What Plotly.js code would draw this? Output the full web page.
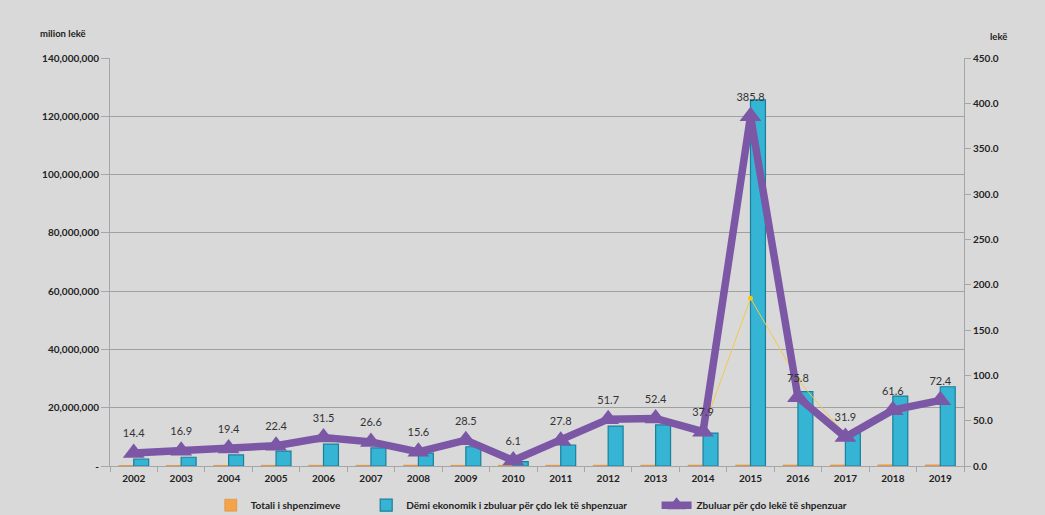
<!DOCTYPE html>
<html>
<head>
<meta charset="utf-8">
<script src="https://cdn.plot.ly/plotly-3.0.1.min.js"></script>
<style>
  html, body { margin: 0; padding: 0; background: #d9d9d9; }
  #chart { width: 1045px; height: 515px; }
</style>
</head>
<body>
<div id="chart"></div>
<script>
// Categories
var years = ['2002','2003','2004','2005','2006','2007','2008','2009','2010','2011','2012','2013','2014','2015','2016','2017','2018','2019'];

// Totali i shpenzimeve (left axis, lekë) - tiny, barely visible
var totaliShpenzimeve = [170000, 180000, 200000, 230000, 240000, 235000, 280000, 230000, 250000, 260000, 265000, 270000, 300000, 325000, 330000, 350000, 390000, 375000];

// Dëmi ekonomik i zbuluar (left axis)
var demiEkonomik = [2400000, 3000000, 3800000, 5100000, 7500000, 6200000, 4400000, 6600000, 1500000, 7200000, 13700000, 14100000, 11300000, 125600000, 25500000, 11300000, 24000000, 27200000];

// Zbuluar për çdo lekë të shpenzuar (right axis)
var zbuluarPerLek = [14.4, 16.9, 19.4, 22.4, 31.5, 26.6, 15.6, 28.5, 6.1, 27.8, 51.7, 52.4, 37.9, 385.8, 75.8, 31.9, 61.6, 72.4];

// Faint yellow helper line visible between 2014 and 2017 (right axis)
var yellowLine = [null, null, null, null, null, null, null, null, null, null, null, null, 40, 185, 95, 34, null, null];

// Tick labels
var leftTickVals = [0, 20000000, 40000000, 60000000, 80000000, 100000000, 120000000, 140000000];
var leftTickText = ['-', '20,000,000', '40,000,000', '60,000,000', '80,000,000', '100,000,000', '120,000,000', '140,000,000'];
var rightTickVals = [0, 50, 100, 150, 200, 250, 300, 350, 400, 450];
var rightTickText = ['0.0', '50.0', '100.0', '150.0', '200.0', '250.0', '300.0', '350.0', '400.0', '450.0'];

var FONT = 'Lato, "Open Sans", sans-serif';
var legFont = { family: FONT, size: 10, color: '#222222', weight: 'bold' };

var traces = [
  {
    type: 'bar', name: 'Totali i shpenzimeve', legend: 'legend',
    x: years, y: totaliShpenzimeve,
    marker: { color: '#f5a34a', line: { color: '#d9822b', width: 0.5 } },
    yaxis: 'y'
  },
  {
    type: 'bar', name: 'Dëmi ekonomik i zbuluar për çdo lek të shpenzuar', legend: 'legend2',
    x: years, y: demiEkonomik,
    marker: { color: '#36b4d4', line: { color: '#1b7f9c', width: 1.2 } },
    yaxis: 'y'
  },
  {
    type: 'scatter', mode: 'lines+markers', name: 'yellow',
    x: years, y: yellowLine, yaxis: 'y2', showlegend: false,
    line: { color: '#f2c94c', width: 1 },
    marker: { color: '#f5c518', size: 5 },
    connectgaps: false
  },
  {
    type: 'scatter', mode: 'lines+markers+text', name: 'Zbuluar për çdo lekë të shpenzuar', legend: 'legend3',
    x: years, y: zbuluarPerLek, yaxis: 'y2',
    line: { color: '#7b57a6', width: 7.5 },
    marker: { symbol: 'triangle-up', size: 19, color: '#7b57a6' },
    text: zbuluarPerLek.map(function(v){ return v.toFixed(1); }),
    textposition: 'top center',
    textfont: { family: FONT, size: 11, color: '#333333' }
  }
];

function leg(x) {
  return {
    orientation: 'h', x: x, xanchor: 'left', y: -0.096, yanchor: 'middle',
    font: legFont, bgcolor: 'rgba(0,0,0,0)', itemwidth: 30
  };
}

var layout = {
  width: 1045, height: 515,
  paper_bgcolor: '#d9d9d9', plot_bgcolor: '#d9d9d9',
  margin: { l: 110, r: 81, t: 58, b: 49, autoexpand: false },
  font: { family: FONT, color: '#222222' },
  barmode: 'group', bargap: 0.37, bargroupgap: 0,
  showlegend: true,
  legend: leg(0.118),
  legend2: leg(0.3),
  legend3: leg(0.64),
  xaxis: {
    type: 'category', range: [-0.5, 17.5],
    showgrid: false, zeroline: false,
    showline: true, linecolor: '#a6a6a6', linewidth: 1,
    ticks: 'outside', ticklen: 5, tickcolor: '#a6a6a6', tickson: 'boundaries',
    ticklabelstandoff: 3,
    tickfont: { family: FONT, size: 10, color: '#222222', weight: 'bold' }
  },
  yaxis: {
    range: [0, 140000000],
    tickvals: leftTickVals, ticktext: leftTickText,
    showgrid: true, gridcolor: '#a0a0a0', gridwidth: 1,
    zeroline: false, showline: true, linecolor: '#a6a6a6', linewidth: 1,
    ticks: 'outside', ticklen: 8, tickcolor: '#a6a6a6',
    tickfont: { family: FONT, size: 10, color: '#222222', weight: 'bold' }
  },
  yaxis2: {
    range: [0, 450], overlaying: 'y', side: 'right',
    tickvals: rightTickVals, ticktext: rightTickText,
    showgrid: false, zeroline: false,
    showline: true, linecolor: '#a6a6a6', linewidth: 1,
    ticks: 'outside', ticklen: 6, tickcolor: '#a6a6a6',
    tickfont: { family: FONT, size: 10, color: '#222222', weight: 'bold' }
  },
  annotations: [
    { text: 'milion lekë', xref: 'paper', yref: 'paper', x: -0.084, y: 1.06, xanchor: 'left', yanchor: 'middle',
      showarrow: false, font: { family: FONT, size: 9.5, color: '#222222', weight: 'bold' } },
    { text: 'lekë', xref: 'paper', yref: 'paper', x: 1.028, y: 1.052, xanchor: 'left', yanchor: 'middle',
      showarrow: false, font: { family: FONT, size: 9.5, color: '#222222', weight: 'bold' } }
  ]
};

Plotly.newPlot('chart', traces, layout, { displayModeBar: false, staticPlot: true });
</script>
</body>
</html>
